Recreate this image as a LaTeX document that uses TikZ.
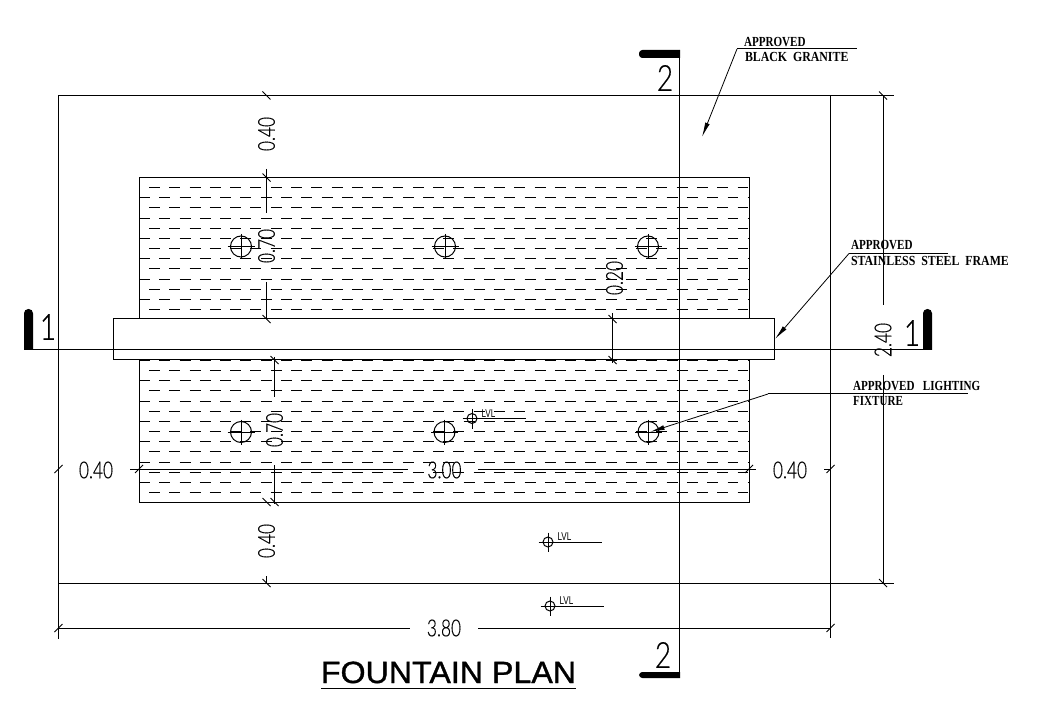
\documentclass[tikz,border=0pt]{standalone}
\usepackage{fontspec}
\usepackage{graphicx}
\usetikzlibrary{arrows.meta}
\setmainfont{Liberation Sans}
\newfontfamily\cadlight[FakeBold=0.35]{Lato Light}
\newfontfamily\cadlvl{Liberation Sans}
\newfontfamily\cadtitle[FakeBold=1.1]{Liberation Sans}
\newfontfamily\cadserif{Liberation Serif}[BoldFont={Liberation Serif Bold}]
\newcommand{\dimtxt}[1]{\scalebox{.74}[1]{\cadlight\fontsize{17.5pt}{18pt}\selectfont #1}}
\newcommand{\sectxt}[1]{\scalebox{.78}[1]{\cadlight\fontsize{27pt}{28pt}\selectfont #1}}
\newcommand{\lvltxt}[1]{\scalebox{.72}[1]{\cadlvl\fontsize{8.5pt}{9pt}\selectfont #1}}
\newcommand{\notetxt}[1]{\scalebox{.8}[1]{\cadserif\bfseries\fontsize{10.4pt}{11pt}\selectfont #1}}
\newcommand{\notewide}[1]{\scalebox{.855}[1]{\cadserif\bfseries\fontsize{10.4pt}{11pt}\selectfont #1}}
\tikzset{
  ln/.style={line width=.75pt},
  hatchrow/.style={line width=.75pt,dash pattern=on 8.2pt off 7.02pt},
  tk/.style={line width=.55pt},
  lead/.style={line width=.6pt,-{Latex[length=11pt,width=3.6pt]}},
  dimlabel/.style={inner sep=0pt,outer sep=0pt},
  notelabel/.style={inner sep=0pt,outer sep=0pt,anchor=base west},
}
\begin{document}
\begin{tikzpicture}[x=.75pt,y=-.75pt]
\useasboundingbox (0,0) rectangle (1043,727);
\fill[white] (0,0) rectangle (1043,727);
% pool hatching
\foreach \k in {0,...,30}{
  \pgfmathsetmacro{\yy}{187.5+10.17*\k}
  \pgfmathparse{int(mod(\k,2))}
  \ifnum\pgfmathresult=0
    \draw[hatchrow] (149,\yy) -- (749,\yy);
  \else
    \draw[hatchrow] (139,\yy) -- (749,\yy);
  \fi
}
% pool
\draw[ln] (139,177.5) rectangle (749,502);
% lights
\foreach \n/\cx/\cy in {a/241/246.5,b/445/246.5,c/648/246.5,d/241/432,e/444.5/432,f/648.5/432}{
  \draw[ln] (\cx,\cy) circle[radius=10.5];
  \draw[ln] (\cx-13.5,\cy) -- (\cx+13.5,\cy);
  \draw[ln] (\cx,\cy-12.5) -- (\cx,\cy+12.5);
}
% outer plan
\draw[ln] (58.5,95.5) -- (894,95.5);
\draw[ln] (58.5,583) -- (894,583);
\draw[ln] (58.5,95.5) -- (58.5,639);
\draw[ln] (830.5,95.5) -- (830.5,638);
% frame
\draw[ln,fill=white] (113,319) rectangle (774.5,360);
% section lines
\draw[ln] (24,349.5) -- (932,349.5);
\draw[ln] (679.5,50) -- (679.5,678);
\fill (24,350) [rounded corners=3.2pt] -- (24,309) -- (33,309) [sharp corners] -- (33,350) -- cycle;
\fill (932,350) [rounded corners=3.2pt] -- (932,309) -- (923,309) [sharp corners] -- (923,350) -- cycle;
\fill (680,50) [rounded corners=2.5pt] -- (639,50) -- (639,58) [sharp corners] -- (680,58) -- cycle;
\fill (680,672) [rounded corners=2.5pt] -- (639,672) -- (639,678) [sharp corners] -- (680,678) -- cycle;
\node[dimlabel] (sec1l) at (48,327) {\sectxt{1}};
\node[dimlabel] (sec1r) at (912,333) {\sectxt{1}};
\node[dimlabel] (sec2t) at (665,78) {\sectxt{2}};
\node[dimlabel] (sec2b) at (663,655) {\sectxt{2}};
% vertical dimensions
\draw[ln] (883,95.5) -- (883,305);
\draw[ln] (883,375) -- (883,583);
\node[dimlabel,rotate=90] (d240) at (883,340) {\dimtxt{2.40}};
\draw[ln] (266.5,169) -- (266.5,213);
\draw[ln] (266.5,282) -- (266.5,319);
\draw[ln] (274.5,357) -- (274.5,397);
\draw[ln] (274.5,465) -- (274.5,504);
\draw[ln] (266.5,576) -- (266.5,583);
\draw[ln] (612.5,313) -- (612.5,363);
\node[dimlabel,rotate=90] (d040a) at (266.5,134) {\dimtxt{0.40}};
\node[dimlabel,rotate=90] (d070a) at (266.5,246) {\dimtxt{0.70}};
\node[dimlabel,rotate=90] (d070b) at (274.5,430) {\dimtxt{0.70}};
\node[dimlabel,rotate=90] (d040b) at (266.5,541) {\dimtxt{0.40}};
\node[dimlabel,rotate=90] (d020) at (614.5,278) {\dimtxt{0.20}};
% horizontal dimensions
\draw[ln] (130,469) -- (408,469);
\draw[ln] (478,469) -- (756,469);
\draw[ln] (824,469) -- (831,469);
\draw[ln] (58,628) -- (410,628);
\draw[ln] (478,628) -- (831,628);
\node[dimlabel] (d040l) at (96,470) {\dimtxt{0.40}};
\node[dimlabel] (d300) at (444.5,470) {\dimtxt{3.00}};
\node[dimlabel] (d040r) at (790,470) {\dimtxt{0.40}};
\node[dimlabel] (d380) at (444,628) {\dimtxt{3.80}};
% ticks
\foreach \tx/\ty in {266.5/95.5,266.5/177.5,266.5/319,274.5/360,274.5/502,266.5/502,266.5/583,612.5/319,612.5/360,883/95.5,883/583}{
  \draw[tk] (\tx-4,\ty-4) -- (\tx+4,\ty+4);
}
\foreach \tx/\ty in {58.5/469,139/469,749/469,830.5/469,58.5/628,830.5/628}{
  \draw[tk] (\tx-4,\ty+4) -- (\tx+4,\ty-4);
}
% level markers
\foreach \n/\cx/\cy/\ex in {p/472/418.5/526,q/548/542/602,r/550/606/604}{
  \draw[ln] (\cx,\cy) circle[radius=5];
  \draw[ln] (\cx-9.5,\cy) -- (\ex,\cy);
  \draw[ln] (\cx,\cy-9.5) -- (\cx,\cy+10);
  \node[dimlabel,anchor=base west] (lvl\n) at (\cx+9.5,\cy-1.5) {\lvltxt{LVL}};
}
% notes
\coordinate (gran) at (737,49);
\coordinate (grant) at (702,137);
\draw[ln] (gran) -- (857,49);
\draw[lead] (gran) -- (grant);
\node[notelabel] (n1a) at (744,47) {\notetxt{APPROVED}};
\node[notelabel] (n1b) at (745,62) {\notewide{BLACK\ \ GRANITE}};
\coordinate (st) at (849,253.5);
\coordinate (stt) at (775,339);
\draw[ln] (st) -- (948,253.5);
\draw[lead] (st) -- (stt);
\node[notelabel] (n2a) at (851,250) {\notetxt{APPROVED}};
\node[notelabel] (n2b) at (851,266) {\notewide{STAINLESS\ \ STEEL\ \ FRAME}};
\coordinate (li) at (768,394);
\coordinate (lit) at (650,432);
\draw[ln] (li) -- (968,394);
\draw[lead] (li) -- (lit);
\node[notelabel] (n3a) at (853,391) {\notetxt{APPROVED\ \ \ LIGHTING}};
\node[notelabel] (n3b) at (853,406) {\notetxt{FIXTURE}};
% title
\node[inner sep=0pt,anchor=base] (title) at (448.5,683) {\scalebox{1.05}[1]{\cadtitle\fontsize{23pt}{24pt}\selectfont FOUNTAIN PLAN}};
\draw[ln] (321,688) -- (576,688);
\end{tikzpicture}
\end{document}
